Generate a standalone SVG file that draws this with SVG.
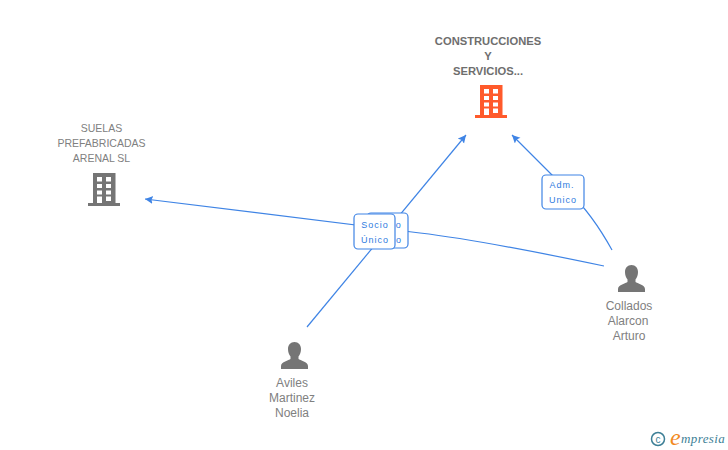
<svg xmlns="http://www.w3.org/2000/svg" xmlns:xlink="http://www.w3.org/1999/xlink" width="728" height="450" viewBox="0 0 728 450">
<style>
.n{font:12px "Liberation Sans",Arial,sans-serif;fill:#808080;text-anchor:middle}
.u{font-size:10.500px}
.t{font-size:11.200px;font-weight:bold;fill:#6e6e6e}
.c{fill:none;stroke:#3f84e5;stroke-width:1.2}
.b{fill:#fff;stroke:#3f84e5;stroke-width:1.2}
.l{font:9px "Liberation Sans",Arial,sans-serif;fill:#2f7be0;text-anchor:middle;letter-spacing:1px}
</style>
<defs>
<marker id="a" markerWidth="10" markerHeight="10" refX="8" refY="4" orient="auto" markerUnits="userSpaceOnUse"><path d="M0 0L8 4L0 8L1.500 4Z" fill="#3f84e5"/></marker>
<path id="bld" fill-rule="evenodd" d="M5 0H27.500V30H32V33H0V30H5ZM9 4V8.500H14V4ZM18 4V8.500H23V4ZM9 11V15H14V11ZM18 11V15H23V11ZM9 17.500V21.500H14V17.500ZM18 17.500V21.500H23V17.500ZM9 23.500V30H14V23.500ZM18 23.500V28H23V23.500Z"/>
<path id="psn" d="M13.500 0C17.500 0 20 3 20 7C20 10 19 12.500 17.500 14.500V17C19 18.500 27 19.500 27 24V27H0V24C0 19.500 8 18.500 9.500 17V14.500C8 12.500 7 10 7 7C7 3 9.500 0 13.500 0Z"/>
</defs>
<g id="connectors">
<path class="c" d="M307 327L466 135" marker-end="url(#a)"/>
<path class="c" d="M612 250Q592 214 570 193L512 135" marker-end="url(#a)"/>
<path class="c" d="M604 266Q480 240 420 233L145 199" marker-end="url(#a)"/>
</g>
<g id="label-socio-2">
<rect class="b" x="367" y="213" width="41" height="35" rx="4"/>
<text class="l" x="388" y="228">Socio</text><text class="l" x="388" y="243">Único</text>
</g>
<g id="label-socio-1">
<rect class="b" x="354" y="214" width="41" height="35" rx="4"/>
<text class="l" x="375" y="228">Socio</text><text class="l" x="375" y="243">Único</text>
</g>
<g id="label-adm">
<rect class="b" x="542" y="175" width="42" height="34" rx="4"/>
<text class="l" x="562" y="188">Adm.</text><text class="l" x="563" y="203">Unico</text>
</g>
<g id="node-construcciones">
<text class="n t" x="488" y="45">CONSTRUCCIONES</text><text class="n t" x="488" y="60">Y</text><text class="n t" x="488" y="75">SERVICIOS...</text>
<use xlink:href="#bld" href="#bld" x="475" y="85" fill="#ff5a2b"/>
</g>
<g id="node-suelas">
<text class="n u" x="101.500" y="132">SUELAS</text><text class="n u" x="101.500" y="147">PREFABRICADAS</text><text class="n u" x="101.500" y="162">ARENAL SL</text>
<use xlink:href="#bld" href="#bld" x="88" y="173" fill="#757575"/>
</g>
<g id="node-collados">
<use xlink:href="#psn" href="#psn" x="618" y="265" fill="#757575"/>
<text class="n" x="629" y="310">Collados</text><text class="n" x="628" y="325">Alarcon</text><text class="n" x="629" y="340">Arturo</text>
</g>
<g id="node-aviles">
<use xlink:href="#psn" href="#psn" x="281" y="342" fill="#757575"/>
<text class="n" x="292" y="387">Aviles</text><text class="n" x="292" y="402">Martinez</text><text class="n" x="292" y="417">Noelia</text>
</g>
<g id="logo">
<circle cx="658" cy="439" r="6.500" fill="none" stroke="#3d7f96" stroke-width="1.500"/>
<text x="658" y="442.500" font-family="Liberation Sans,sans-serif" font-size="10" fill="#3d7f96" text-anchor="middle">c</text>
<text x="670" y="445" font-family="Liberation Serif,serif" font-style="italic" font-size="24" fill="#f28a1e">e</text>
<text x="681" y="443" font-family="Liberation Serif,serif" font-style="italic" font-size="13" fill="#3d7f96" letter-spacing=".4">mpresia</text>
</g>
</svg>
